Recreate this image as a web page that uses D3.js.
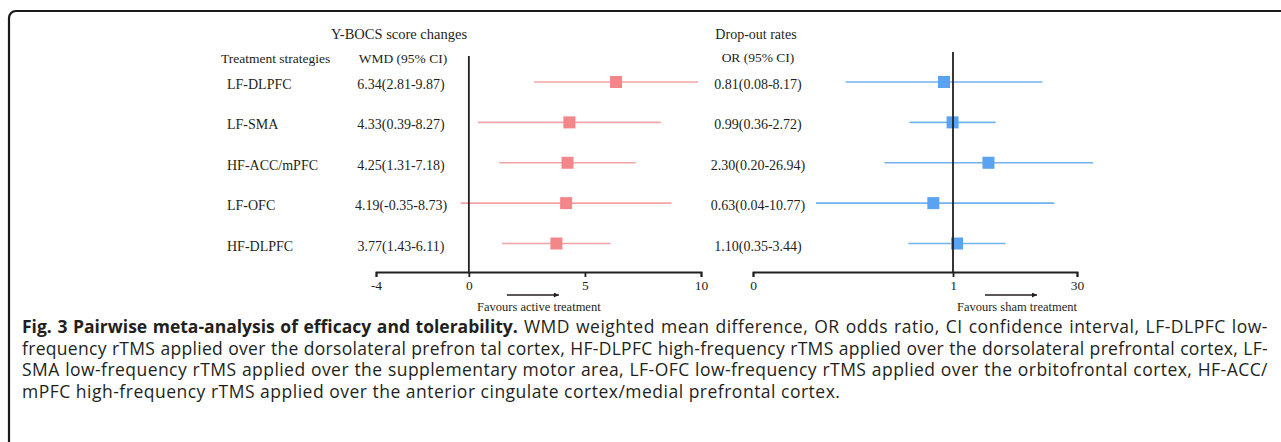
<!DOCTYPE html>
<html>
<head>
<meta charset="utf-8">
<script src="https://cdn.jsdelivr.net/npm/d3@7"></script>
<style>
  body { margin: 0; background: #fff; }
  #container { position: relative; width: 1281px; height: 442px; overflow: hidden; }
  #container svg { position: absolute; left: 0; top: 0; }
  .caption { position: absolute; left: 22px; top: 316px; width: 1246px;
    font-family: "Open Sans", sans-serif; font-size: 17.5px; line-height: 21.7px;
    color: #231f20; }
  .caption div { white-space: nowrap; text-align: left; }
  .caption div.just { text-align: justify; text-align-last: justify; }
  .caption b { font-weight: 700; letter-spacing: 0; }
</style>
</head>
<body>
<div id="container"></div>
<script>
// Data
const strategies = ["LF-DLPFC", "LF-SMA", "HF-ACC/mPFC", "LF-OFC", "HF-DLPFC"];
const wmd = [6.34, 4.33, 4.25, 4.19, 3.77];
const wmdLow = [2.81, 0.39, 1.31, -0.35, 1.43];
const wmdHigh = [9.87, 8.27, 7.18, 8.73, 6.11];
const orVal = [0.81, 0.99, 2.30, 0.63, 1.10];
const orLow = [0.08, 0.36, 0.20, 0.04, 0.35];
const orHigh = [8.17, 2.72, 26.94, 10.77, 3.44];
const wmdTicks = [-4, 0, 5, 10];
const orTicks = [0, 1, 30];

const captionLines = [
  "<b>Fig. 3 Pairwise meta-analysis of efficacy and tolerability.</b> WMD weighted mean difference, OR odds ratio, CI confidence interval, LF-DLPFC low-",
  "frequency rTMS applied over the dorsolateral prefron tal cortex, HF-DLPFC high-frequency rTMS applied over the dorsolateral prefrontal cortex, LF-",
  "SMA low-frequency rTMS applied over the supplementary motor area, LF-OFC low-frequency rTMS applied over the orbitofrontal cortex, HF-ACC/",
  "mPFC high-frequency rTMS applied over the anterior cingulate cortex/medial prefrontal cortex."
];

var width = 1281, height = 442;
var serif = "'Liberation Serif', 'Times New Roman', serif";
var ink = "#231f20";
var pinkBox = "#f4868a", pinkLine = "#f5a3a6";
var blueBox = "#5aa2f2", blueLine = "#72b2f0";

var rows = strategies.map(function (s, i) {
  return { name: s, wmd: wmd[i], wl: wmdLow[i], wh: wmdHigh[i], or: orVal[i], ol: orLow[i], oh: orHigh[i] };
});

var svg = d3.select("#container")
  .append("svg")
  .attr("width", width)
  .attr("height", height);

// frame
svg.append("rect")
  .attr("x", 9).attr("y", 11)
  .attr("width", 1400).attr("height", 600)
  .attr("rx", 7)
  .attr("fill", "none")
  .attr("stroke", "#1a1a1a")
  .attr("stroke-width", 2.2);

// arrow head
svg.append("defs").append("marker")
  .attr("id", "arrow")
  .attr("viewBox", "0 0 10 10")
  .attr("refX", 10).attr("refY", 5)
  .attr("markerWidth", 7).attr("markerHeight", 5)
  .attr("markerUnits", "userSpaceOnUse")
  .attr("orient", "auto")
  .append("path")
  .attr("d", "M0,0L10,5L0,10Z")
  .attr("fill", ink);

// Scales
var axisY = 272;
var y = d3.scalePoint().domain(strategies).range([82, 243.5]);
var x1 = d3.scaleLinear().domain([-4, 10]).range([376, 701]);
var x2Axis = d3.scaleLinear().domain(orTicks).range([753, 953, 1077]);
var x2 = d3.scaleLog().domain([0.01, 100]).range([953 - 2 * 98, 953 + 2 * 98]);

// plain hyphen for negatives, as in the figure
var fmt = function (v) { return d3.format(".2f")(v).replace("\u2212", "-"); };

// ---- text columns ----
var g = svg.append("g")
  .attr("font-family", serif)
  .attr("fill", ink);

g.append("text").attr("x", 399).attr("y", 39).attr("text-anchor", "middle")
  .attr("font-size", 14.5).text("Y-BOCS score changes");
g.append("text").attr("x", 221).attr("y", 63)
  .attr("font-size", 13.5).text("Treatment strategies");
g.append("text").attr("x", 403).attr("y", 63).attr("text-anchor", "middle")
  .attr("font-size", 13.5).text("WMD (95% CI)");
g.append("text").attr("x", 756).attr("y", 39).attr("text-anchor", "middle")
  .attr("font-size", 14).text("Drop-out rates");
g.append("text").attr("x", 758).attr("y", 62).attr("text-anchor", "middle")
  .attr("font-size", 13.5).text("OR (95% CI)");

g.selectAll(".name")
  .data(rows)
  .enter().append("text")
  .attr("class", "name")
  .attr("x", 227)
  .attr("y", function (d) { return y(d.name) + 7; })
  .attr("font-size", 14)
  .text(function (d) { return d.name; });

g.selectAll(".wmdtxt")
  .data(rows)
  .enter().append("text")
  .attr("class", "wmdtxt")
  .attr("x", 401)
  .attr("y", function (d) { return y(d.name) + 7; })
  .attr("text-anchor", "middle")
  .attr("font-size", 14)
  .text(function (d) { return fmt(d.wmd) + "(" + fmt(d.wl) + "-" + fmt(d.wh) + ")"; });

g.selectAll(".ortxt")
  .data(rows)
  .enter().append("text")
  .attr("class", "ortxt")
  .attr("x", 758)
  .attr("y", function (d) { return y(d.name) + 7; })
  .attr("text-anchor", "middle")
  .attr("font-size", 14)
  .text(function (d) { return fmt(d.or) + "(" + fmt(d.ol) + "-" + fmt(d.oh) + ")"; });

// ---- left panel: WMD ----
var left = svg.append("g");

left.selectAll(".ci")
  .data(rows)
  .enter().append("line")
  .attr("x1", function (d) { return x1(d.wl); })
  .attr("x2", function (d) { return x1(d.wh); })
  .attr("y1", function (d) { return y(d.name); })
  .attr("y2", function (d) { return y(d.name); })
  .attr("stroke", pinkLine)
  .attr("stroke-width", 1.6);

left.selectAll(".box")
  .data(rows)
  .enter().append("rect")
  .attr("x", function (d) { return x1(d.wmd) - 6; })
  .attr("y", function (d) { return y(d.name) - 6; })
  .attr("width", 12).attr("height", 12)
  .attr("fill", pinkBox);

left.append("line")
  .attr("x1", x1(0)).attr("x2", x1(0))
  .attr("y1", 56).attr("y2", axisY)
  .attr("stroke", ink).attr("stroke-width", 1.8);

var xAxis1 = d3.axisBottom(x1).tickValues(wmdTicks).tickSize(5).tickSizeOuter(5)
  .tickFormat(function (d) { return String(d); });
left.append("g")
  .attr("class", "x axis")
  .attr("transform", "translate(0," + axisY + ")")
  .call(xAxis1);

// ---- right panel: OR ----
var right = svg.append("g");

right.selectAll(".ci")
  .data(rows)
  .enter().append("line")
  .attr("x1", function (d) { return x2(d.ol); })
  .attr("x2", function (d) { return x2(d.oh); })
  .attr("y1", function (d) { return y(d.name); })
  .attr("y2", function (d) { return y(d.name); })
  .attr("stroke", blueLine)
  .attr("stroke-width", 1.6);

right.selectAll(".box")
  .data(rows)
  .enter().append("rect")
  .attr("x", function (d) { return x2(d.or) - 6; })
  .attr("y", function (d) { return y(d.name) - 6; })
  .attr("width", 12).attr("height", 12)
  .attr("fill", blueBox);

right.append("line")
  .attr("x1", x2(1)).attr("x2", x2(1))
  .attr("y1", 52).attr("y2", axisY)
  .attr("stroke", ink).attr("stroke-width", 1.8);

var xAxis2 = d3.axisBottom(x2Axis).tickValues(orTicks).tickSize(5).tickSizeOuter(5)
  .tickFormat(function (d) { return String(d); });
right.append("g")
  .attr("class", "x axis")
  .attr("transform", "translate(0," + axisY + ")")
  .call(xAxis2);

// axis styling
svg.selectAll(".axis path, .axis line")
  .attr("stroke", ink).attr("stroke-width", 1.8);
svg.selectAll(".axis text")
  .attr("font-family", serif).attr("font-size", 13.5).attr("fill", ink);

// favours arrows + labels
function favours(zeroX, x0, x1a, labelX, label) {
  svg.append("line")
    .attr("x1", zeroX + x0).attr("x2", zeroX + x1a)
    .attr("y1", 295).attr("y2", 295)
    .attr("stroke", ink).attr("stroke-width", 1.4)
    .attr("marker-end", "url(#arrow)");
  svg.append("text")
    .attr("x", zeroX + labelX).attr("y", 311)
    .attr("text-anchor", "middle")
    .attr("font-family", serif).attr("font-size", 12.5).attr("fill", ink)
    .text(label);
}
favours(x1(0), 38, 90, 70, "Favours active treatment");
favours(x2(1), 32, 84, 64, "Favours sham treatment");

// caption: widen letters a touch, but never past the box width
var cap = d3.select("#container").append("div").attr("class", "caption");
var capLines = cap.selectAll("div")
  .data(captionLines)
  .enter().append("div")
  .style("letter-spacing", "0.5px")
  .html(function (d) { return "<span>" + d + "</span>"; });

capLines.each(function () {
  var div = this, span = div.querySelector("span");
  var ls = 0.5;
  while (ls > -0.3 && span.getBoundingClientRect().width > 1240) {
    ls -= 0.05;
    div.style.letterSpacing = ls + "px";
  }
});
capLines.filter(function (d, i) { return i < captionLines.length - 1; })
  .classed("just", true);
</script>
</body>
</html>
